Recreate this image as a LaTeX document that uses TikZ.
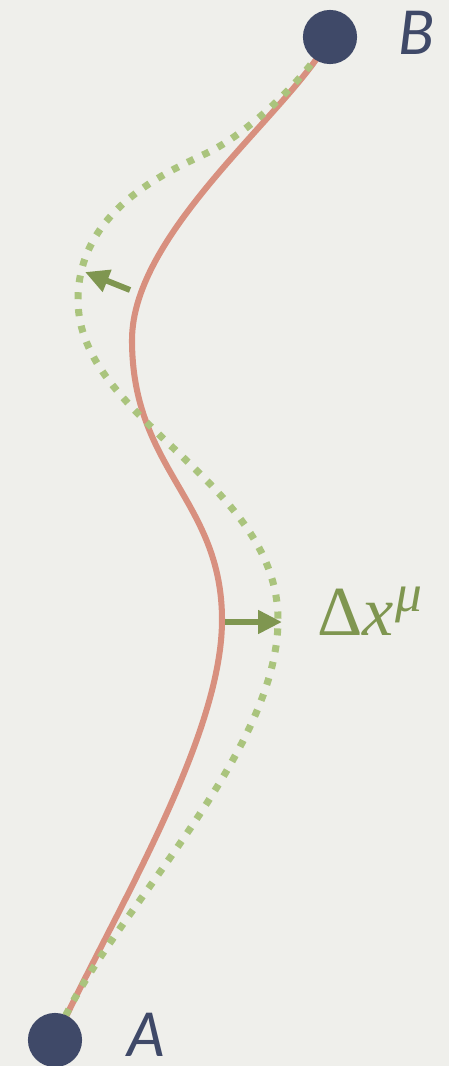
\documentclass[tikz,border=0pt]{standalone}
\usepackage{fontspec}
\newfontfamily\labelfont{Lato}
\newfontfamily\deltafont{Liberation Serif}
\usetikzlibrary{arrows.meta}

\definecolor{paper}{HTML}{EFEFEB}
\definecolor{navy}{HTML}{3F4968}
\definecolor{salmon}{HTML}{D8907F}
\definecolor{sage}{HTML}{AAC47D}
\definecolor{olive}{HTML}{7F9650}

\tikzset{
  endpoint/.style={circle, fill=navy, inner sep=0pt, minimum size=38.5pt},
  pointlabel/.style={text=navy, inner sep=0pt, anchor=south, text depth=0pt, font=\labelfont\itshape\fontsize{43}{46}\selectfont},
  truepath/.style={salmon, line width=4.3pt, line cap=round},
  varpath/.style={sage, line width=5pt, dash pattern=on 5pt off 7pt},
  shiftarrow/.style={olive, line width=4.2pt, -{Triangle[length=17pt,width=16pt]}}
}

\begin{document}
\begin{tikzpicture}[x=0.025cm, y=-0.025cm]

\fill[paper] (0,0) rectangle (449,1066);
\useasboundingbox (0,0) rectangle (449,1066);

\coordinate (pB) at (330,37);
\coordinate (pA) at (55,1040);
\coordinate (rL) at (132,340);
\coordinate (rR) at (222,620);
\coordinate (gT) at (207,153);
\coordinate (gL) at (78,300);
\coordinate (gR) at (278,620);

% classical path
\draw[truepath] (pB) .. controls (295,108) and (132,230) .. (rL)
  .. controls (132,470) and (222,500) .. (rR)
  .. controls (222,740) and (110,920) .. (pA);

% varied path
\draw[varpath] (pB) .. controls (305,80) and (247,134) .. (gT)
  .. controls (167,172) and (78,210) .. (gL)
  .. controls (78,420) and (278,480) .. (gR)
  .. controls (278,760) and (95,930) .. (pA);

% variations
\coordinate (r1) at (130,290);
\coordinate (g1) at (85,272);
\coordinate (r2) at (225,622);
\coordinate (g2) at (282,622);
\draw[shiftarrow] (r1) -- (g1);
\draw[shiftarrow] (r2) -- (g2);

\node[text=olive, anchor=base west, inner sep=0pt, font=\deltafont\fontsize{50}{54}\selectfont] (dx) at (317,635) {Δ\textit{x}\kern1pt\raisebox{0.33em}{\fontsize{38}{40}\selectfont\textit{μ}}};

\node[endpoint] (B) at (pB) {};
\node[endpoint] (A) at (pA) {};
\node[pointlabel] (lB) at (417,55) {B};
\node[pointlabel] (lA) at (147,1057) {A};

\end{tikzpicture}
\end{document}
